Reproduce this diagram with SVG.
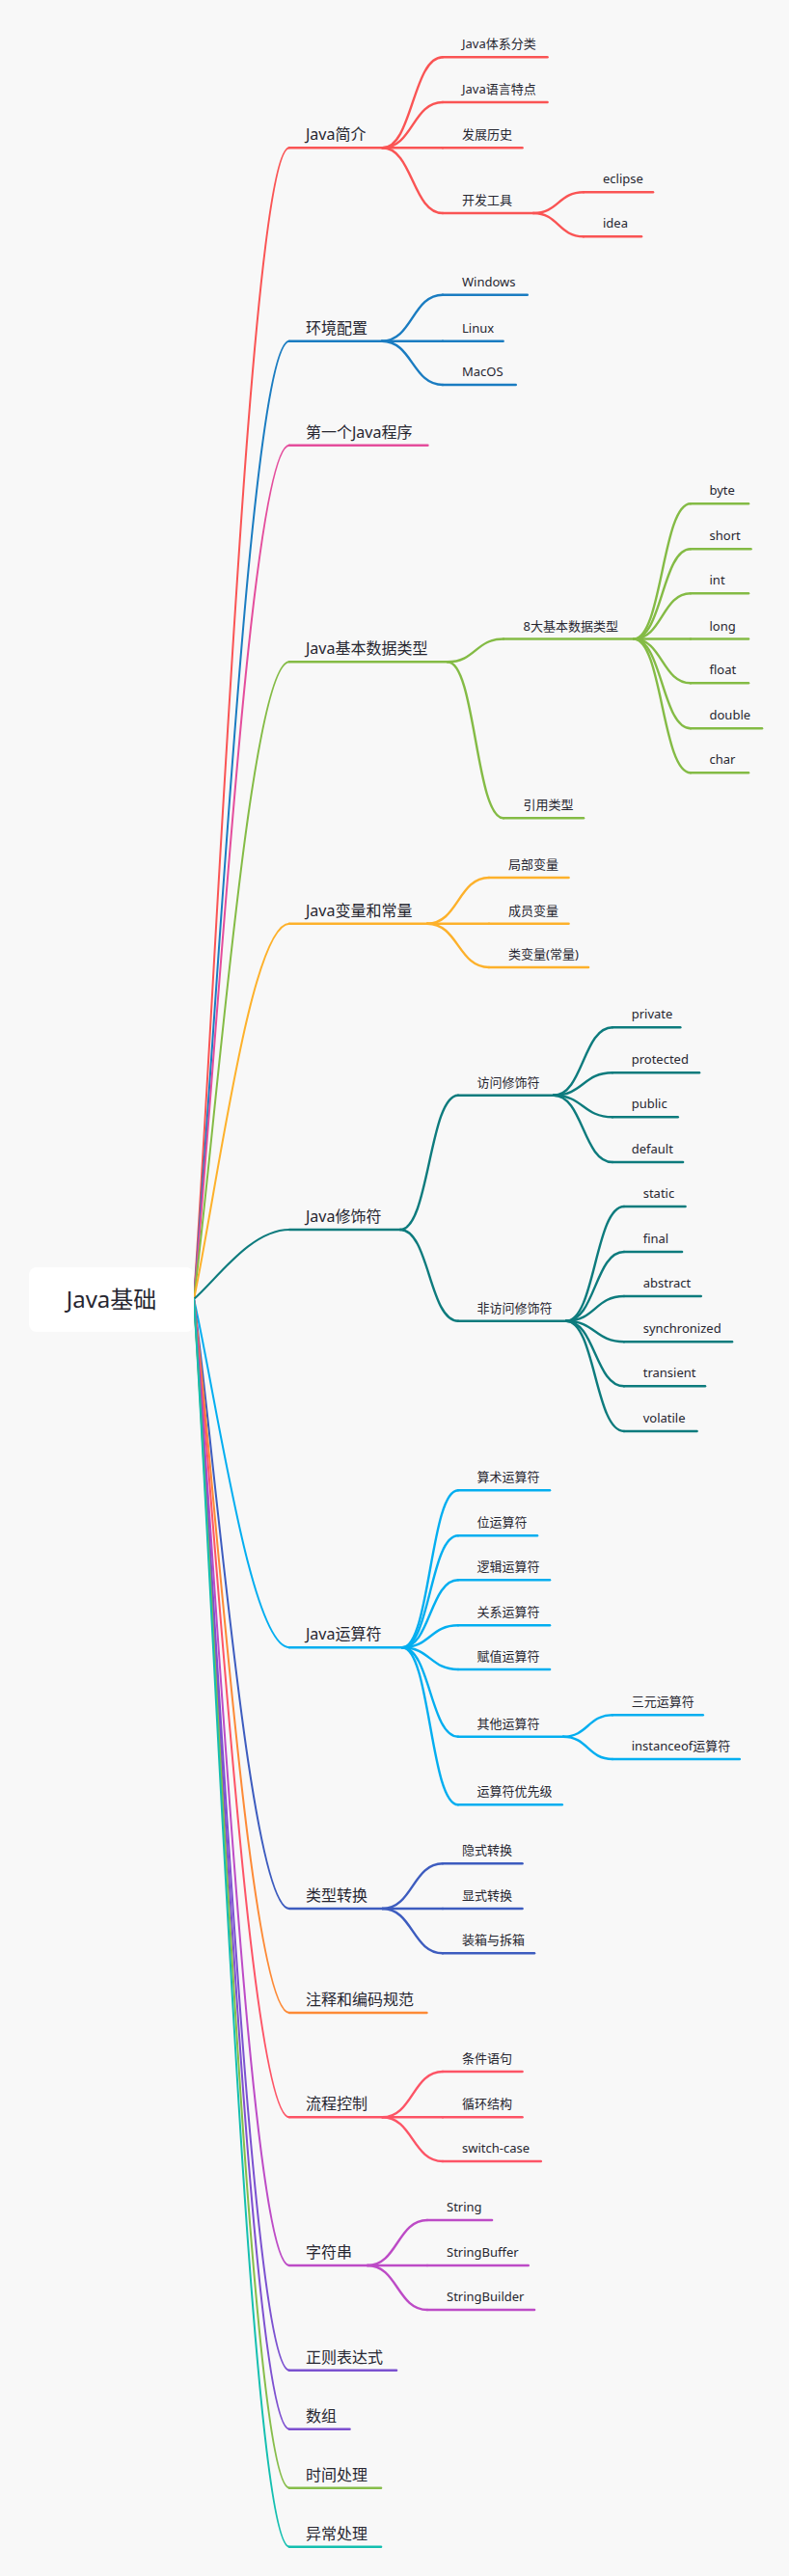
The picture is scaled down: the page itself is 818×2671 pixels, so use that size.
<svg xmlns="http://www.w3.org/2000/svg" width="818" height="2671" viewBox="0 0 818 2671">
<style>
text{font-family:"Noto Sans","Noto Sans CJK SC",sans-serif;fill:#262630}
.t1{font-size:16px}
.t2{font-size:13px}
.rt{font-size:24px}
path,line{fill:none;stroke-linecap:round}
.c0 path{stroke-width:2}
.cn path{stroke-width:2.4}
line{stroke-width:2.6}
.k1{stroke:#fa5454}.k2{stroke:#1a7cc1}.k3{stroke:#e44d9c}.k4{stroke:#84bb45}.k5{stroke:#fdb12b}
.k6{stroke:#0d7b7d}.k7{stroke:#03aef0}.k8{stroke:#3d5cbf}.k9{stroke:#fd8a36}.k10{stroke:#fd5466}
.k11{stroke:#bd4bc6}.k12{stroke:#7b51d0}.k13{stroke:#7d50d0}.k14{stroke:#86bd4a}.k15{stroke:#14bfb0}
</style>
<rect width="818" height="2671" fill="#f8f8f8"/>

<g id="connectors">
<g class="c0">
<path class="k1" d="M201 1347 C225 1000.8 260 153.3 300 153.3"/>
<path class="k2" d="M201 1347 C225 1059 260 353.7 300 353.7"/>
<path class="k3" d="M201 1347 C225 1090.3 260 461.7 300 461.7"/>
<path class="k4" d="M201 1347 C225 1155.4 260 686.3 300 686.3"/>
<path class="k5" d="M201 1347 C225 1234.1 260 957.7 300 957.7"/>
<path class="k6" d="M201 1347 C225 1326.1 260 1275 300 1275"/>
<path class="k7" d="M201 1347 C225 1451.8 260 1708.3 300 1708.3"/>
<path class="k8" d="M201 1347 C225 1530.3 260 1979 300 1979"/>
<path class="k9" d="M201 1347 C225 1561.6 260 2087 300 2087"/>
<path class="k10" d="M201 1347 C225 1593 260 2195.3 300 2195.3"/>
<path class="k11" d="M201 1347 C225 1637.6 260 2349 300 2349"/>
<path class="k12" d="M201 1347 C225 1669.1 260 2457.7 300 2457.7"/>
<path class="k13" d="M201 1347 C225 1686.8 260 2518.7 300 2518.7"/>
<path class="k14" d="M201 1347 C225 1704.5 260 2579.7 300 2579.7"/>
<path class="k15" d="M201 1347 C225 1722.2 260 2640.7 300 2640.7"/>
</g>
<g class="cn">
<path class="k1" d="M396.5 153.3 C427.8 153.3 427.8 59.3 459 59.3"/>
<path class="k1" d="M396.5 153.3 C427.8 153.3 427.8 106 459 106"/>
<path class="k1" d="M396.5 153.3 L459 153.3"/>
<path class="k1" d="M396.5 153.3 C427.8 153.3 427.8 221 459 221"/>
<path class="k1" d="M553 221 C579 221 579 199.3 605 199.3"/>
<path class="k1" d="M553 221 C579 221 579 245.3 605 245.3"/>

<path class="k2" d="M396 353.7 C427.5 353.7 427.5 305.7 459 305.7"/>
<path class="k2" d="M396 353.7 L459 353.7"/>
<path class="k2" d="M396 353.7 C427.5 353.7 427.5 399 459 399"/>

<path class="k4" d="M464 686.3 C493 686.3 493 662.5 522 662.5"/>
<path class="k4" d="M464 686.3 C493 686.3 493 848.3 522 848.3"/>
<path class="k4" d="M657 662.5 C686.5 662.5 686.5 522.3 716 522.3"/>
<path class="k4" d="M657 662.5 C686.5 662.5 686.5 569.3 716 569.3"/>
<path class="k4" d="M657 662.5 C686.5 662.5 686.5 615.3 716 615.3"/>
<path class="k4" d="M657 662.5 L716 662.5"/>
<path class="k4" d="M657 662.5 C686.5 662.5 686.5 708.3 716 708.3"/>
<path class="k4" d="M657 662.5 C686.5 662.5 686.5 755.3 716 755.3"/>
<path class="k4" d="M657 662.5 C686.5 662.5 686.5 801.3 716 801.3"/>

<path class="k5" d="M443 957.7 C475 957.7 475 910 507 910"/>
<path class="k5" d="M443 957.7 L507 957.7"/>
<path class="k5" d="M443 957.7 C475 957.7 475 1003 507 1003"/>

<path class="k6" d="M415 1275 C445 1275 445 1135.7 475 1135.7"/>
<path class="k6" d="M415 1275 C445 1275 445 1369.7 475 1369.7"/>
<path class="k6" d="M574 1135.7 C604.5 1135.7 604.5 1065.3 635 1065.3"/>
<path class="k6" d="M574 1135.7 C604.5 1135.7 604.5 1112.3 635 1112.3"/>
<path class="k6" d="M574 1135.7 C604.5 1135.7 604.5 1158.3 635 1158.3"/>
<path class="k6" d="M574 1135.7 C604.5 1135.7 604.5 1205 635 1205"/>
<path class="k6" d="M587 1369.7 C617 1369.7 617 1251 647 1251"/>
<path class="k6" d="M587 1369.7 C617 1369.7 617 1298 647 1298"/>
<path class="k6" d="M587 1369.7 C617 1369.7 617 1344 647 1344"/>
<path class="k6" d="M587 1369.7 C617 1369.7 617 1391.3 647 1391.3"/>
<path class="k6" d="M587 1369.7 C617 1369.7 617 1437.3 647 1437.3"/>
<path class="k6" d="M587 1369.7 C617 1369.7 617 1484 647 1484"/>

<path class="k7" d="M417 1708.3 C446 1708.3 446 1545.3 475 1545.3"/>
<path class="k7" d="M417 1708.3 C446 1708.3 446 1592.3 475 1592.3"/>
<path class="k7" d="M417 1708.3 C446 1708.3 446 1638.3 475 1638.3"/>
<path class="k7" d="M417 1708.3 C446 1708.3 446 1685.3 475 1685.3"/>
<path class="k7" d="M417 1708.3 C446 1708.3 446 1731 475 1731"/>
<path class="k7" d="M417 1708.3 C446 1708.3 446 1800.7 475 1800.7"/>
<path class="k7" d="M417 1708.3 C446 1708.3 446 1871.3 475 1871.3"/>
<path class="k7" d="M584 1800.7 C609.5 1800.7 609.5 1778.3 635 1778.3"/>
<path class="k7" d="M584 1800.7 C609.5 1800.7 609.5 1824 635 1824"/>

<path class="k8" d="M396.5 1979 C427.8 1979 427.8 1932.3 459 1932.3"/>
<path class="k8" d="M396.5 1979 L459 1979"/>
<path class="k8" d="M396.5 1979 C427.8 1979 427.8 2025.3 459 2025.3"/>

<path class="k10" d="M396.5 2195.3 C427.8 2195.3 427.8 2148 459 2148"/>
<path class="k10" d="M396.5 2195.3 L459 2195.3"/>
<path class="k10" d="M396.5 2195.3 C427.8 2195.3 427.8 2241 459 2241"/>

<path class="k11" d="M381 2349 C412 2349 412 2302 443 2302"/>
<path class="k11" d="M381 2349 L443 2349"/>
<path class="k11" d="M381 2349 C412 2349 412 2395 443 2395"/>
</g>
</g>

<g id="root">
<rect x="30" y="1314" width="171" height="67" rx="8" fill="#ffffff"/>
<text class="rt" x="115.5" y="1356" text-anchor="middle">Java基础</text>
</g>

<g id="n1"><line class="k1" x1="300" y1="153.3" x2="396.5" y2="153.3"/><text class="t1" x="317" y="145.3">Java简介</text></g>
<g id="n1-1"><line class="k1" x1="459" y1="59.3" x2="567.5" y2="59.3"/><text class="t2" x="479" y="50.3">Java体系分类</text></g>
<g id="n1-2"><line class="k1" x1="459" y1="106" x2="567.5" y2="106"/><text class="t2" x="479" y="97">Java语言特点</text></g>
<g id="n1-3"><line class="k1" x1="459" y1="153.3" x2="541.5" y2="153.3"/><text class="t2" x="479" y="144.3">发展历史</text></g>
<g id="n1-4"><line class="k1" x1="459" y1="221" x2="553" y2="221"/><text class="t2" x="479" y="212">开发工具</text></g>
<g id="n1-4-1"><line class="k1" x1="605" y1="199.3" x2="677" y2="199.3"/><text class="t2" x="625" y="190.3">eclipse</text></g>
<g id="n1-4-2"><line class="k1" x1="605" y1="245.3" x2="665" y2="245.3"/><text class="t2" x="625" y="236.3">idea</text></g>

<g id="n2"><line class="k2" x1="300" y1="353.7" x2="396" y2="353.7"/><text class="t1" x="317" y="345.7">环境配置</text></g>
<g id="n2-1"><line class="k2" x1="459" y1="305.7" x2="546.7" y2="305.7"/><text class="t2" x="479" y="296.7">Windows</text></g>
<g id="n2-2"><line class="k2" x1="459" y1="353.7" x2="521.6" y2="353.7"/><text class="t2" x="479" y="344.7">Linux</text></g>
<g id="n2-3"><line class="k2" x1="459" y1="399" x2="534.7" y2="399"/><text class="t2" x="479" y="390">MacOS</text></g>

<g id="n3"><line class="k3" x1="300" y1="461.7" x2="443.4" y2="461.7"/><text class="t1" x="317" y="453.7">第一个Java程序</text></g>

<g id="n4"><line class="k4" x1="300" y1="686.3" x2="464" y2="686.3"/><text class="t1" x="317" y="678.3">Java基本数据类型</text></g>
<g id="n4-1"><line class="k4" x1="522" y1="662.5" x2="657" y2="662.5"/><text class="t2" x="542.5" y="653.5">8大基本数据类型</text></g>
<g id="n4-1-1"><line class="k4" x1="716" y1="522.3" x2="776" y2="522.3"/><text class="t2" x="735.5" y="513.3">byte</text></g>
<g id="n4-1-2"><line class="k4" x1="716" y1="569.3" x2="778.5" y2="569.3"/><text class="t2" x="735.5" y="560.3">short</text></g>
<g id="n4-1-3"><line class="k4" x1="716" y1="615.3" x2="776" y2="615.3"/><text class="t2" x="735.5" y="606.3">int</text></g>
<g id="n4-1-4"><line class="k4" x1="716" y1="662.5" x2="776" y2="662.5"/><text class="t2" x="735.5" y="653.5">long</text></g>
<g id="n4-1-5"><line class="k4" x1="716" y1="708.3" x2="776" y2="708.3"/><text class="t2" x="735.5" y="699.3">float</text></g>
<g id="n4-1-6"><line class="k4" x1="716" y1="755.3" x2="790" y2="755.3"/><text class="t2" x="735.5" y="746.3">double</text></g>
<g id="n4-1-7"><line class="k4" x1="716" y1="801.3" x2="776" y2="801.3"/><text class="t2" x="735.5" y="792.3">char</text></g>
<g id="n4-2"><line class="k4" x1="522" y1="848.3" x2="605" y2="848.3"/><text class="t2" x="542.5" y="839.3">引用类型</text></g>

<g id="n5"><line class="k5" x1="300" y1="957.7" x2="443" y2="957.7"/><text class="t1" x="317" y="949.7">Java变量和常量</text></g>
<g id="n5-1"><line class="k5" x1="507" y1="910" x2="589.5" y2="910"/><text class="t2" x="527" y="901">局部变量</text></g>
<g id="n5-2"><line class="k5" x1="507" y1="957.7" x2="589.5" y2="957.7"/><text class="t2" x="527" y="948.7">成员变量</text></g>
<g id="n5-3"><line class="k5" x1="507" y1="1003" x2="610" y2="1003"/><text class="t2" x="527" y="994">类变量(常量)</text></g>

<g id="n6"><line class="k6" x1="300" y1="1275" x2="415" y2="1275"/><text class="t1" x="317" y="1267">Java修饰符</text></g>
<g id="n6-1"><line class="k6" x1="475" y1="1135.7" x2="574" y2="1135.7"/><text class="t2" x="494.5" y="1126.7">访问修饰符</text></g>
<g id="n6-1-1"><line class="k6" x1="635" y1="1065.3" x2="705.3" y2="1065.3"/><text class="t2" x="654.7" y="1056.3">private</text></g>
<g id="n6-1-2"><line class="k6" x1="635" y1="1112.3" x2="725" y2="1112.3"/><text class="t2" x="654.7" y="1103.3">protected</text></g>
<g id="n6-1-3"><line class="k6" x1="635" y1="1158.3" x2="702.7" y2="1158.3"/><text class="t2" x="654.7" y="1149.3">public</text></g>
<g id="n6-1-4"><line class="k6" x1="635" y1="1205" x2="708" y2="1205"/><text class="t2" x="654.7" y="1196">default</text></g>
<g id="n6-2"><line class="k6" x1="475" y1="1369.7" x2="587" y2="1369.7"/><text class="t2" x="494.5" y="1360.7">非访问修饰符</text></g>
<g id="n6-2-1"><line class="k6" x1="647" y1="1251" x2="710.5" y2="1251"/><text class="t2" x="666.7" y="1242">static</text></g>
<g id="n6-2-2"><line class="k6" x1="647" y1="1298" x2="707" y2="1298"/><text class="t2" x="666.7" y="1289">final</text></g>
<g id="n6-2-3"><line class="k6" x1="647" y1="1344" x2="726.7" y2="1344"/><text class="t2" x="666.7" y="1335">abstract</text></g>
<g id="n6-2-4"><line class="k6" x1="647" y1="1391.3" x2="759" y2="1391.3"/><text class="t2" x="666.7" y="1382.3">synchronized</text></g>
<g id="n6-2-5"><line class="k6" x1="647" y1="1437.3" x2="731" y2="1437.3"/><text class="t2" x="666.7" y="1428.3">transient</text></g>
<g id="n6-2-6"><line class="k6" x1="647" y1="1484" x2="722.5" y2="1484"/><text class="t2" x="666.7" y="1475">volatile</text></g>

<g id="n7"><line class="k7" x1="300" y1="1708.3" x2="417" y2="1708.3"/><text class="t1" x="317" y="1700.3">Java运算符</text></g>
<g id="n7-1"><line class="k7" x1="475" y1="1545.3" x2="570" y2="1545.3"/><text class="t2" x="494.5" y="1536.3">算术运算符</text></g>
<g id="n7-2"><line class="k7" x1="475" y1="1592.3" x2="557" y2="1592.3"/><text class="t2" x="494.5" y="1583.3">位运算符</text></g>
<g id="n7-3"><line class="k7" x1="475" y1="1638.3" x2="570" y2="1638.3"/><text class="t2" x="494.5" y="1629.3">逻辑运算符</text></g>
<g id="n7-4"><line class="k7" x1="475" y1="1685.3" x2="570" y2="1685.3"/><text class="t2" x="494.5" y="1676.3">关系运算符</text></g>
<g id="n7-5"><line class="k7" x1="475" y1="1731" x2="570" y2="1731"/><text class="t2" x="494.5" y="1722">赋值运算符</text></g>
<g id="n7-6"><line class="k7" x1="475" y1="1800.7" x2="584" y2="1800.7"/><text class="t2" x="494.5" y="1791.7">其他运算符</text></g>
<g id="n7-6-1"><line class="k7" x1="635" y1="1778.3" x2="728.7" y2="1778.3"/><text class="t2" x="654.7" y="1769.3">三元运算符</text></g>
<g id="n7-6-2"><line class="k7" x1="635" y1="1824" x2="766.8" y2="1824"/><text class="t2" x="654.7" y="1815">instanceof运算符</text></g>
<g id="n7-7"><line class="k7" x1="475" y1="1871.3" x2="582.7" y2="1871.3"/><text class="t2" x="494.5" y="1862.3">运算符优先级</text></g>

<g id="n8"><line class="k8" x1="300" y1="1979" x2="396.5" y2="1979"/><text class="t1" x="317" y="1971">类型转换</text></g>
<g id="n8-1"><line class="k8" x1="459" y1="1932.3" x2="541.5" y2="1932.3"/><text class="t2" x="479" y="1923.3">隐式转换</text></g>
<g id="n8-2"><line class="k8" x1="459" y1="1979" x2="541.5" y2="1979"/><text class="t2" x="479" y="1970">显式转换</text></g>
<g id="n8-3"><line class="k8" x1="459" y1="2025.3" x2="554" y2="2025.3"/><text class="t2" x="479" y="2016.3">装箱与拆箱</text></g>

<g id="n9"><line class="k9" x1="300" y1="2087" x2="442.4" y2="2087"/><text class="t1" x="317" y="2079">注释和编码规范</text></g>

<g id="n10"><line class="k10" x1="300" y1="2195.3" x2="396.5" y2="2195.3"/><text class="t1" x="317" y="2187.3">流程控制</text></g>
<g id="n10-1"><line class="k10" x1="459" y1="2148" x2="541.5" y2="2148"/><text class="t2" x="479" y="2139">条件语句</text></g>
<g id="n10-2"><line class="k10" x1="459" y1="2195.3" x2="541.5" y2="2195.3"/><text class="t2" x="479" y="2186.3">循环结构</text></g>
<g id="n10-3"><line class="k10" x1="459" y1="2241" x2="560.8" y2="2241"/><text class="t2" x="479" y="2232">switch-case</text></g>

<g id="n11"><line class="k11" x1="300" y1="2349" x2="381" y2="2349"/><text class="t1" x="317" y="2341">字符串</text></g>
<g id="n11-1"><line class="k11" x1="443" y1="2302" x2="510" y2="2302"/><text class="t2" x="463" y="2293">String</text></g>
<g id="n11-2"><line class="k11" x1="443" y1="2349" x2="547.7" y2="2349"/><text class="t2" x="463" y="2340">StringBuffer</text></g>
<g id="n11-3"><line class="k11" x1="443" y1="2395" x2="554" y2="2395"/><text class="t2" x="463" y="2386">StringBuilder</text></g>

<g id="n12"><line class="k12" x1="300" y1="2457.7" x2="411" y2="2457.7"/><text class="t1" x="317" y="2449.7">正则表达式</text></g>
<g id="n13"><line class="k13" x1="300" y1="2518.7" x2="362.5" y2="2518.7"/><text class="t1" x="317" y="2510.7">数组</text></g>
<g id="n14"><line class="k14" x1="300" y1="2579.7" x2="395" y2="2579.7"/><text class="t1" x="317" y="2571.7">时间处理</text></g>
<g id="n15"><line class="k15" x1="300" y1="2640.7" x2="395" y2="2640.7"/><text class="t1" x="317" y="2632.7">异常处理</text></g>
</svg>
